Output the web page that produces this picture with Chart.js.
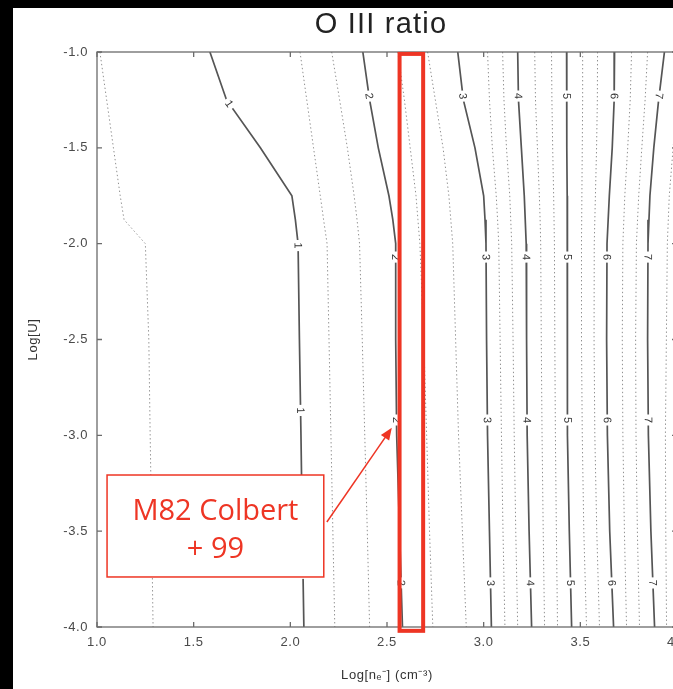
<!DOCTYPE html>
<html>
<head>
<meta charset="utf-8">
<title>O III ratio</title>
<script src="https://cdn.jsdelivr.net/npm/chart.js@4.4.1/dist/chart.umd.min.js"></script>
<style>
  html, body { margin: 0; padding: 0; background: #000; overflow: hidden; }
  #frame { position: absolute; left: 13px; top: 8px; width: 660px; height: 681px; background: #fff; overflow: hidden; }
  #frame canvas { position: absolute; left: 0; top: 0; }
</style>
</head>
<body>
<div id="frame"><canvas id="ratio-chart" width="700" height="681" style="width:700px;height:681px"></canvas></div>
<script>
const FONT = '"Liberation Sans", Arial, sans-serif';

// axis ticks
const xTickValues = [1.0, 1.5, 2.0, 2.5, 3.0, 3.5, 4.0];
const yTickValues = [-1.0, -1.5, -2.0, -2.5, -3.0, -3.5, -4.0];

// Log[U] rows shared by every contour line
const logU = [-1.0, -1.25, -1.5, -1.75, -1.875, -2.0, -2.5, -3.0, -3.5, -4.0];

// labelled (solid) contour levels: Log[n_e] along each row of logU
const solidLevels = [1, 2, 3, 4, 5, 6, 7];
const level1 = [1.584, 1.67, 1.845, 2.008, 2.026, 2.04, 2.047, 2.055, 2.062, 2.07];
const level2 = [2.375, 2.41, 2.455, 2.51, 2.53, 2.545, 2.545, 2.55, 2.565, 2.58];
const level3 = [2.866, 2.895, 2.955, 3.0, 3.007, 3.012, 3.015, 3.02, 3.03, 3.04];
const level4 = [3.176, 3.18, 3.195, 3.21, 3.215, 3.22, 3.222, 3.225, 3.235, 3.248];
const level5 = [3.429, 3.43, 3.43, 3.432, 3.432, 3.433, 3.433, 3.435, 3.443, 3.455];
const level6 = [3.677, 3.675, 3.665, 3.65, 3.644, 3.638, 3.636, 3.64, 3.652, 3.672];
const level7 = [3.935, 3.905, 3.88, 3.86, 3.855, 3.85, 3.848, 3.852, 3.865, 3.884];

// intermediate (dotted) levels, thirds between the solid ones
const dot0_67 = [1.015, 1.05, 1.085, 1.12, 1.14, 1.25, 1.268, 1.275, 1.283, 1.29];
const dot1_33 = [2.05, 2.085, 2.12, 2.155, 2.172, 2.19, 2.2, 2.21, 2.22, 2.23];
const dot1_67 = [2.214, 2.255, 2.295, 2.33, 2.345, 2.358, 2.372, 2.385, 2.398, 2.41];
const dot2_33 = [2.556, 2.59, 2.62, 2.65, 2.66, 2.67, 2.69, 2.705, 2.72, 2.737];
const dot2_67 = [2.71, 2.75, 2.79, 2.82, 2.83, 2.84, 2.855, 2.87, 2.89, 2.91];
const dot3_33 = [3.02, 3.03, 3.045, 3.065, 3.072, 3.078, 3.085, 3.092, 3.1, 3.11];
const dot3_67 = [3.098, 3.105, 3.118, 3.135, 3.14, 3.145, 3.152, 3.158, 3.166, 3.176];
const dot4_33 = [3.264, 3.268, 3.278, 3.288, 3.292, 3.295, 3.298, 3.302, 3.308, 3.315];
const dot4_67 = [3.351, 3.353, 3.357, 3.362, 3.364, 3.366, 3.368, 3.371, 3.376, 3.382];
const dot5_33 = [3.512, 3.512, 3.51, 3.508, 3.507, 3.506, 3.506, 3.51, 3.518, 3.532];
const dot5_67 = [3.589, 3.588, 3.584, 3.578, 3.575, 3.572, 3.571, 3.575, 3.585, 3.599];
const dot6_33 = [3.765, 3.758, 3.745, 3.73, 3.725, 3.72, 3.717, 3.72, 3.728, 3.739];
const dot6_67 = [3.848, 3.835, 3.818, 3.802, 3.796, 3.79, 3.786, 3.788, 3.795, 3.806];
const dot7_33 = [4.02, 4.0, 3.98, 3.96, 3.955, 3.95, 3.945, 3.94, 3.942, 3.946];

// Log[U] where the inline level labels sit
const labelRowsFirst = [-1.27, -2.01, -2.87, -3.72];
const labelRows = [-1.23, -2.07, -2.92, -3.77];

// M82 (Colbert+99) density band
const bandLogN = [2.565, 2.687];
const bandLogU = [-1.01, -4.02];

const solidLines = [level1, level2, level3, level4, level5, level6, level7];
const dottedLines = [dot0_67, dot1_33, dot1_67, dot2_33, dot2_67, dot3_33, dot3_67,
  dot4_33, dot4_67, dot5_33, dot5_67, dot6_33, dot6_67, dot7_33];

// callout box + arrow, in data units
const note = { x0: 1.052, x1: 2.173, y0: -3.207, y1: -3.739, lines: ['M82 Colbert', '+ 99'] };
const arrow = { fromX: 2.189, fromY: -3.452, toX: 2.525, toY: -2.961 };

const RED = '#ee3524';

function toPoints(xs) {
  return logU.map((u, i) => ({ x: xs[i], y: u }));
}

function rowIndex(u) {
  for (let i = 0; i < logU.length - 1; i++) {
    if (u <= logU[i] && u >= logU[i + 1]) return i;
  }
  return logU.length - 2;
}

const datasets = [
  ...dottedLines.map((xs) => ({
    data: toPoints(xs),
    showLine: true,
    borderColor: '#8f8f8f',
    borderWidth: 1,
    borderDash: [1.4, 2.6],
    pointRadius: 0,
  })),
  ...solidLines.map((xs) => ({
    data: toPoints(xs),
    showLine: true,
    borderColor: '#555',
    borderWidth: 1.7,
    pointRadius: 0,
  })),
];

const contourLabels = {
  id: 'contourLabels',
  afterDatasetsDraw(chart) {
    const { ctx, scales: { x, y } } = chart;
    ctx.save();
    ctx.letterSpacing = '0px';
    ctx.font = `11px ${FONT}`;
    ctx.textAlign = 'center';
    ctx.textBaseline = 'middle';
    solidLines.forEach((xs, k) => {
      const rows = k === 0 ? labelRowsFirst : labelRows;
      rows.forEach((u) => {
        const i = rowIndex(u);
        const t = (logU[i] - u) / (logU[i] - logU[i + 1]);
        const lx = xs[i] + t * (xs[i + 1] - xs[i]);
        const px = x.getPixelForValue(lx);
        const py = y.getPixelForValue(u);
        const ang = Math.atan2(
          y.getPixelForValue(logU[i + 1]) - y.getPixelForValue(logU[i]),
          x.getPixelForValue(xs[i + 1]) - x.getPixelForValue(xs[i])
        );
        const text = String(solidLevels[k]);
        ctx.save();
        ctx.translate(px, py);
        ctx.rotate(ang);
        const w = ctx.measureText(text).width + 5;
        ctx.fillStyle = '#fff';
        ctx.fillRect(-w / 2, -5, w, 10);
        ctx.fillStyle = '#333';
        ctx.fillText(text, 0, 0.5);
        ctx.restore();
      });
    });
    ctx.restore();
  },
};

const frameAndNotes = {
  id: 'frameAndNotes',
  beforeDraw(chart) {
    chart.ctx.letterSpacing = '0.6px';
  },
  afterDraw(chart) {
    const { ctx, chartArea: a, scales: { x, y } } = chart;
    ctx.save();
    ctx.letterSpacing = '0px';

    // axes box with inward ticks
    ctx.strokeStyle = '#6b6b6b';
    ctx.lineWidth = 1.3;
    ctx.strokeRect(a.left, a.top, a.right - a.left, a.bottom - a.top);
    ctx.beginPath();
    xTickValues.forEach((v) => {
      const px = x.getPixelForValue(v);
      ctx.moveTo(px, a.bottom); ctx.lineTo(px, a.bottom - 5);
      ctx.moveTo(px, a.top); ctx.lineTo(px, a.top + 5);
    });
    yTickValues.forEach((v) => {
      const py = y.getPixelForValue(v);
      ctx.moveTo(a.left, py); ctx.lineTo(a.left + 5, py);
      ctx.moveTo(a.right, py); ctx.lineTo(a.right - 5, py);
    });
    ctx.stroke();

    // title
    ctx.fillStyle = '#222';
    ctx.font = `29px ${FONT}`;
    ctx.letterSpacing = '1.2px';
    ctx.textAlign = 'center';
    ctx.textBaseline = 'alphabetic';
    ctx.fillText('O III ratio', (a.left + a.right) / 2 - 6, 25);
    ctx.letterSpacing = '0px';

    // density band
    ctx.strokeStyle = RED;
    ctx.lineWidth = 4;
    const bx0 = x.getPixelForValue(bandLogN[0]);
    const bx1 = x.getPixelForValue(bandLogN[1]);
    const by0 = y.getPixelForValue(bandLogU[0]);
    const by1 = y.getPixelForValue(bandLogU[1]);
    ctx.strokeRect(bx0, by0, bx1 - bx0, by1 - by0);

    // callout box
    const nx0 = x.getPixelForValue(note.x0);
    const nx1 = x.getPixelForValue(note.x1);
    const ny0 = y.getPixelForValue(note.y0);
    const ny1 = y.getPixelForValue(note.y1);
    ctx.fillStyle = '#fff';
    ctx.fillRect(nx0, ny0, nx1 - nx0, ny1 - ny0);
    ctx.lineWidth = 1.5;
    ctx.strokeRect(nx0, ny0, nx1 - nx0, ny1 - ny0);
    ctx.fillStyle = RED;
    ctx.font = `29px "Open Sans", ${FONT}`;
    ctx.textAlign = 'center';
    const cx = (nx0 + nx1) / 2;
    const cy = (ny0 + ny1) / 2;
    ctx.fillText(note.lines[0], cx, cy - 6);
    ctx.fillText(note.lines[1], cx, cy + 32);

    // arrow to the level-2 label
    const ax0 = x.getPixelForValue(arrow.fromX);
    const ay0 = y.getPixelForValue(arrow.fromY);
    const ax1 = x.getPixelForValue(arrow.toX);
    const ay1 = y.getPixelForValue(arrow.toY);
    const ang = Math.atan2(ay1 - ay0, ax1 - ax0);
    ctx.beginPath();
    ctx.moveTo(ax0, ay0);
    ctx.lineTo(ax1 - 8 * Math.cos(ang), ay1 - 8 * Math.sin(ang));
    ctx.stroke();
    ctx.save();
    ctx.translate(ax1, ay1);
    ctx.rotate(ang);
    ctx.beginPath();
    ctx.moveTo(0, 0);
    ctx.lineTo(-12, -5);
    ctx.lineTo(-12, 5);
    ctx.closePath();
    ctx.fill();
    ctx.restore();

    ctx.restore();
  },
};

const tickFont = { family: FONT, size: 13 };

new Chart(document.getElementById('ratio-chart'), {
  type: 'scatter',
  data: { datasets },
  options: {
    responsive: false,
    animation: false,
    events: [],
    layout: { padding: { top: 44, right: 36, left: 0, bottom: 0 } },
    plugins: {
      legend: { display: false },
      tooltip: { enabled: false },
      title: { display: false },
    },
    scales: {
      x: {
        type: 'linear',
        min: 1,
        max: 4,
        afterBuildTicks: (scale) => { scale.ticks = xTickValues.map((value) => ({ value })); },
        afterFit: (scale) => { scale.height = 62; },
        grid: { display: false, drawTicks: false },
        border: { display: false },
        ticks: { padding: 8, color: '#4a4a4a', font: tickFont, maxRotation: 0, callback: (v) => Number(v).toFixed(1) },
        title: { display: true, text: 'Log[nₑ⁻] (cm⁻³)', color: '#333', font: { family: FONT, size: 13 }, padding: { top: 0, bottom: 6 } },
      },
      y: {
        type: 'linear',
        min: -4,
        max: -1,
        afterBuildTicks: (scale) => { scale.ticks = yTickValues.map((value) => ({ value })); },
        afterFit: (scale) => { scale.width = 84; },
        grid: { display: false, drawTicks: false },
        border: { display: false },
        ticks: { padding: 9, color: '#4a4a4a', font: tickFont, callback: (v) => Number(v).toFixed(1) },
        title: { display: true, text: 'Log[U]', color: '#333', font: { family: FONT, size: 13 }, padding: { top: 13, bottom: 0 } },
      },
    },
  },
  plugins: [contourLabels, frameAndNotes],
});
</script>
</body>
</html>
